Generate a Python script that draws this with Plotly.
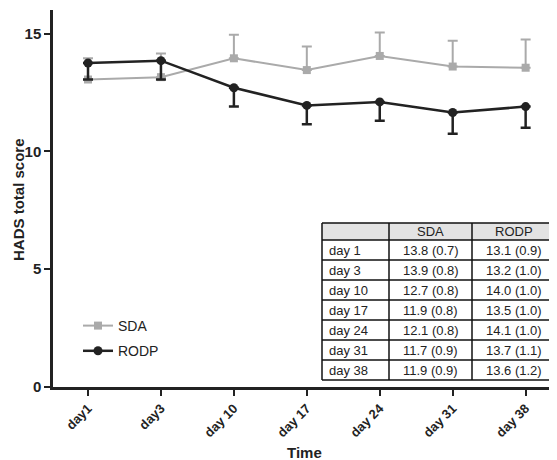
import plotly.graph_objects as go

categories = ["day1", "day3", "day 10", "day 17", "day 24", "day 31", "day 38"]
sda_mean = [13.05, 13.15, 13.95, 13.45, 14.05, 13.6, 13.55]
sda_err = [0.9, 1.0, 1.0, 1.0, 1.0, 1.1, 1.2]
rodp_mean = [13.75, 13.85, 12.7, 11.95, 12.1, 11.65, 11.9]
rodp_err = [0.7, 0.8, 0.8, 0.8, 0.8, 0.9, 0.9]

table_days = ["day 1", "day 3", "day 10", "day 17", "day 24", "day 31", "day 38"]
table_sda = ["13.8 (0.7)", "13.9 (0.8)", "12.7 (0.8)", "11.9 (0.8)", "12.1 (0.8)", "11.7 (0.9)", "11.9 (0.9)"]
table_rodp = ["13.1 (0.9)", "13.2 (1.0)", "14.0 (1.0)", "13.5 (1.0)", "14.1 (1.0)", "13.7 (1.1)", "13.6 (1.2)"]
table_header = ["", "SDA", "RODP"]

FONT = "Arial, Liberation Sans, sans-serif"
GRAY = "#aaaaaa"
DARK = "#222222"

x = list(range(len(categories)))

fig = go.Figure()
fig.add_trace(go.Scatter(
    x=x, y=sda_mean, name="SDA", mode="lines+markers", legendgroup="a",
    line=dict(color=GRAY, width=2),
    marker=dict(symbol="square", size=8, color=GRAY),
    error_y=dict(type="data", symmetric=False, array=sda_err,
                 arrayminus=[0] * len(sda_err), color=GRAY, thickness=2, width=5),
))
fig.add_trace(go.Scatter(
    x=x, y=rodp_mean, name="RODP", mode="lines+markers", legendgroup="b",
    line=dict(color=DARK, width=2.5),
    marker=dict(symbol="circle", size=9, color=DARK),
    error_y=dict(type="data", symmetric=False, array=[0] * len(rodp_err),
                 arrayminus=rodp_err, color=DARK, thickness=2.5, width=5),
))

# page body has an 8px margin; work in screen pixels and subtract it
OX, OY = 8, 8
W, H = 557 - OX, 460 - OY
AX_L, AX_R, AX_T, AX_B = 53, 557, 10, 387   # plot-area edges in screen pixels
L = AX_L - OX
R = (557 - AX_R)
T = AX_T - OY
B = 460 - AX_B
pw = W - L - R
ph = H - T - B


def px_x(p):
    return (p - AX_L) / pw


def px_y(p):
    return (AX_B - p) / ph


# Table drawn with shapes + annotations
col_edges = [322, 389, 472, 556]
header_h = 17
row_h = 20
ty0 = 223
row_edges = [ty0, ty0 + header_h] + [ty0 + header_h + row_h * (i + 1) for i in range(len(table_days))]
shapes = []
shapes.append(dict(type="rect", xref="paper", yref="paper",
                   x0=px_x(col_edges[0]), x1=px_x(col_edges[-1]),
                   y0=px_y(row_edges[-1]), y1=px_y(row_edges[0]),
                   fillcolor="white", line=dict(width=0), layer="above"))
shapes.append(dict(type="rect", xref="paper", yref="paper",
                   x0=px_x(col_edges[0]), x1=px_x(col_edges[-1]),
                   y0=px_y(row_edges[1]), y1=px_y(row_edges[0]),
                   fillcolor="#e3e3e3", line=dict(width=0), layer="above"))
for ry in row_edges:
    shapes.append(dict(type="line", xref="paper", yref="paper",
                       x0=px_x(col_edges[0]), x1=px_x(col_edges[-1]),
                       y0=px_y(ry), y1=px_y(ry),
                       line=dict(color="#111111", width=1.5), layer="above"))
for cx in col_edges:
    shapes.append(dict(type="line", xref="paper", yref="paper",
                       x0=px_x(cx), x1=px_x(cx),
                       y0=px_y(row_edges[-1]), y1=px_y(row_edges[0]),
                       line=dict(color="#111111", width=1.5), layer="above"))

annotations = []
tfont = dict(family=FONT, size=13, color=DARK)
columns = [[table_header[0]] + table_days, [table_header[1]] + table_sda, [table_header[2]] + table_rodp]
for ci, col in enumerate(columns):
    for ri, txt in enumerate(col):
        if not txt:
            continue
        cy = (row_edges[ri] + row_edges[ri + 1]) / 2
        if ci == 0:
            ax = px_x(col_edges[0] + 5)
            xanchor = "left"
        else:
            ax = px_x((col_edges[ci] + col_edges[ci + 1]) / 2)
            xanchor = "center"
        annotations.append(dict(text=txt, xref="paper", yref="paper", x=ax, y=px_y(cy),
                                xanchor=xanchor, yanchor="middle", showarrow=False, font=tfont))

annotations.append(dict(text="<b>Time</b>", xref="paper", yref="paper",
                        x=px_x(304), y=px_y(452), xanchor="center", yanchor="middle",
                        showarrow=False, font=dict(family=FONT, size=15, color=DARK)))
annotations.append(dict(text="<b>HADS total score</b>", xref="paper", yref="paper",
                        x=px_x(18), y=px_y(200), xanchor="center", yanchor="middle",
                        textangle=-90, showarrow=False, font=dict(family=FONT, size=15, color=DARK)))

fig.update_layout(
    width=W, height=H,
    margin=dict(l=L, r=R, t=T, b=B, pad=0),
    paper_bgcolor="white", plot_bgcolor="white",
    font=dict(family=FONT, color=DARK),
    legend=dict(x=px_x(78), y=px_y(310), xanchor="left", yanchor="top",
                bgcolor="rgba(0,0,0,0)", font=dict(size=14, color=DARK),
                traceorder="grouped", tracegroupgap=4),
    showlegend=True,
    shapes=shapes,
    annotations=annotations,
)
fig.update_xaxes(
    range=[-0.48, 6.43], tickmode="array", tickvals=x, ticktext=categories,
    tickangle=-45, showline=True, linecolor=DARK, linewidth=2.5,
    ticks="outside", ticklen=6, tickwidth=2, tickcolor=DARK,
    showgrid=False, zeroline=False, automargin=False,
    tickfont=dict(family=FONT, size=13, color=DARK, weight="bold"),
)
fig.update_yaxes(
    range=[0, 16], tickvals=[0, 5, 10, 15], showline=True, linecolor=DARK,
    linewidth=2.5, ticks="outside", ticklen=6, tickwidth=2, tickcolor=DARK,
    showgrid=False, zeroline=False, automargin=False,
    tickfont=dict(family=FONT, size=15, color=DARK, weight="bold"),
)

fig.write_html("out.html")
